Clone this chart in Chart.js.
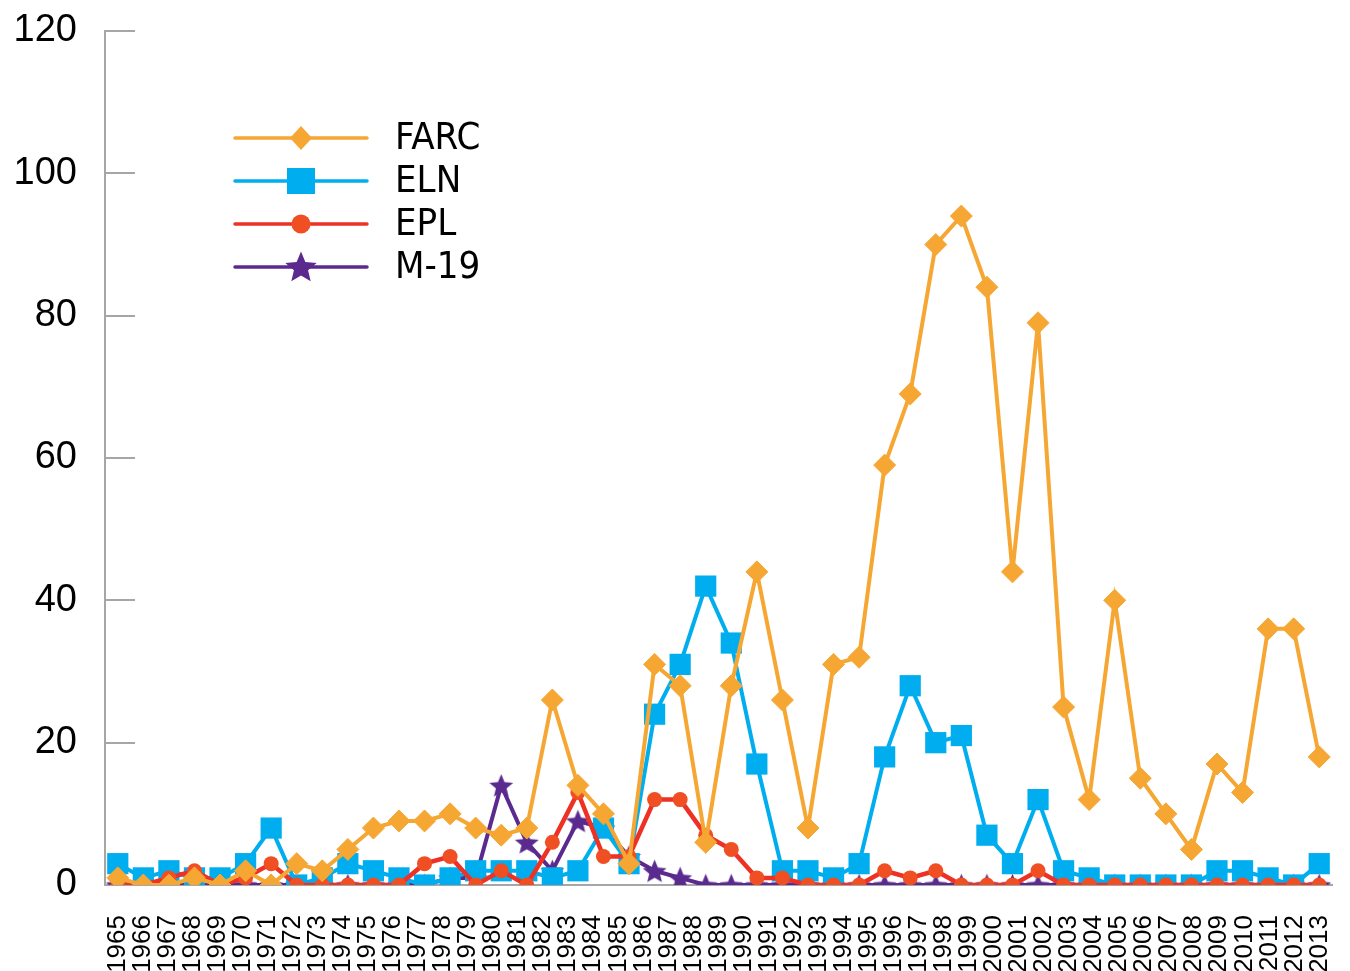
<!DOCTYPE html>
<html>
<head>
<meta charset="utf-8">
<script src="https://cdn.jsdelivr.net/npm/chart.js@4.4.1/dist/chart.umd.min.js"></script>
<style>
  html, body { margin: 0; padding: 0; background: #fff; }
</style>
</head>
<body>
<canvas id="chart" width="1350" height="971"></canvas>
<script>
// axis labels: 49 years, the plotted series have 48 points spread over the same width
const years = ['1965','1966','1967','1968','1969','1970','1971','1972','1973','1974',
  '1975','1976','1977','1978','1979','1980','1981','1982','1983','1984',
  '1985','1986','1987','1988','1989','1990','1991','1992','1993','1994',
  '1995','1996','1997','1998','1999','2000','2001','2002','2003','2004',
  '2005','2006','2007','2008','2009','2010','2011','2012','2013'];

const farc = [1, 0, 0, 1, 0, 2, 0, 3, 2, 5, 8, 9, 9, 10, 8, 7, 8, 26, 14, 10,
  3, 31, 28, 6, 28, 44, 26, 8, 31, 32, 59, 69, 90, 94, 84, 44, 79, 25, 12, 40,
  15, 10, 5, 17, 13, 36, 36, 18];
const eln = [3, 1, 2, 1, 1, 3, 8, 0, 1, 3, 2, 1, 0, 1, 2, 2, 2, 1, 2, 8,
  3, 24, 31, 42, 34, 17, 2, 2, 1, 3, 18, 28, 20, 21, 7, 3, 12, 2, 1, 0,
  0, 0, 0, 2, 2, 1, 0, 3];
const epl = [0, 0, 1, 2, 0, 1, 3, 0, 0, 0, 0, 0, 3, 4, 0, 2, 0, 6, 13, 4,
  4, 12, 12, 7, 5, 1, 1, 0, 0, 0, 2, 1, 2, 0, 0, 0, 2, 0, 0, 0,
  0, 0, 0, 0, 0, 0, 0, 0];
const m19 = [0, 0, 0, 0, 0, 0, 0, 0, 0, 0, 0, 0, 0, 1, 1, 14, 6, 2, 9, 8,
  4, 2, 1, 0, 0, 0, 0, 0, 0, 0, 0, 0, 0, 0, 0, 0, 0, 0, 0, 0,
  0, 0, 0, 0, 0, 0, 0, 0];

const yTicks = [0, 20, 40, 60, 80, 100, 120];

const FARC_COLOR = '#F6A733';
const ELN_COLOR = '#00AEEF';
const EPL_LINE = '#EE3124';
const EPL_DOT = '#F04E23';
const M19_COLOR = '#5B2A8F';
const AXIS_GRAY = '#A6A6A6';

function starPath(ctx, cx, cy, r) {
  ctx.beginPath();
  for (let i = 0; i < 10; i++) {
    const rr = i % 2 ? r * 0.45 : r;
    const a = -Math.PI / 2 + i * Math.PI / 5;
    ctx.lineTo(cx + rr * Math.cos(a), cy + rr * Math.sin(a));
  }
  ctx.closePath();
}

function makeStar(r, color) {
  const c = document.createElement('canvas');
  c.width = Math.ceil(r * 2 + 2);
  c.height = Math.ceil(r * 2 + 2);
  const g = c.getContext('2d');
  g.fillStyle = color;
  starPath(g, c.width / 2, c.height / 2 + r * 0.1, r);
  g.fill();
  return c;
}

const toPoints = arr => arr.map((v, i) => ({ x: i, y: v }));

// small gray ticks that point into the plot from the y axis
const innerTicks = {
  id: 'innerTicks',
  beforeDatasetsDraw(chart) {
    const { ctx, chartArea, scales } = chart;
    ctx.save();
    ctx.strokeStyle = AXIS_GRAY;
    ctx.lineWidth = 2;
    yTicks.forEach(v => {
      if (v === 0) return;
      const y = Math.round(scales.y.getPixelForValue(v));
      ctx.beginPath();
      ctx.moveTo(chartArea.left, y);
      ctx.lineTo(chartArea.left + 30, y);
      ctx.stroke();
    });
    ctx.restore();
  }
};

// legend with line + marker, like the original
const legendItems = [
  { name: 'FARC', line: FARC_COLOR, fill: FARC_COLOR, mark: 'diamond' },
  { name: 'ELN', line: ELN_COLOR, fill: ELN_COLOR, mark: 'square' },
  { name: 'EPL', line: EPL_LINE, fill: EPL_DOT, mark: 'circle' },
  { name: 'M-19', line: M19_COLOR, fill: M19_COLOR, mark: 'star' }
];

const lineLegend = {
  id: 'lineLegend',
  afterDraw(chart) {
    const ctx = chart.ctx;
    const x0 = chart.chartArea.left + 130;
    const top = chart.chartArea.top + 107;
    ctx.save();
    legendItems.forEach((it, i) => {
      const y = top + i * 43;
      ctx.strokeStyle = it.line;
      ctx.lineWidth = 3.5;
      ctx.lineCap = 'round';
      ctx.beginPath();
      ctx.moveTo(x0, y);
      ctx.lineTo(x0 + 132, y);
      ctx.stroke();
      const cx = x0 + 66;
      ctx.fillStyle = it.fill;
      ctx.beginPath();
      if (it.mark === 'diamond') {
        ctx.moveTo(cx, y - 12); ctx.lineTo(cx + 11, y); ctx.lineTo(cx, y + 12); ctx.lineTo(cx - 11, y);
        ctx.closePath();
      } else if (it.mark === 'square') {
        ctx.rect(cx - 14, y - 13, 28, 26);
      } else if (it.mark === 'circle') {
        ctx.arc(cx, y, 9.5, 0, Math.PI * 2);
      } else {
        starPath(ctx, cx, y + 1, 16.5);
      }
      ctx.fill();
      ctx.fillStyle = '#000';
      ctx.font = "38px 'Liberation Sans Narrow', 'DejaVu Sans Condensed', sans-serif";
      ctx.textBaseline = 'middle';
      ctx.textAlign = 'left';
      ctx.fillText(it.name, x0 + 160, y + 1);
    });
    ctx.restore();
  }
};

const ctx = document.getElementById('chart').getContext('2d');
new Chart(ctx, {
  type: 'line',
  data: {
    datasets: [
      {
        label: 'FARC', data: toPoints(farc), order: 0,
        borderColor: FARC_COLOR, borderWidth: 4,
        pointStyle: 'rectRot', pointRadius: 11, pointBackgroundColor: FARC_COLOR,
        pointBorderColor: FARC_COLOR, pointBorderWidth: 1
      },
      {
        label: 'ELN', data: toPoints(eln), order: 2,
        borderColor: ELN_COLOR, borderWidth: 4,
        pointStyle: 'rect', pointRadius: 15, pointBackgroundColor: ELN_COLOR,
        pointBorderColor: ELN_COLOR, pointBorderWidth: 0
      },
      {
        label: 'EPL', data: toPoints(epl), order: 1,
        borderColor: EPL_LINE, borderWidth: 4.5,
        pointStyle: 'circle', pointRadius: 7.5, pointBackgroundColor: EPL_DOT,
        pointBorderColor: EPL_DOT, pointBorderWidth: 0
      },
      {
        label: 'M-19', data: toPoints(m19), order: 3,
        borderColor: M19_COLOR, borderWidth: 4,
        pointStyle: makeStar(12.5, M19_COLOR), pointRadius: 12
      }
    ]
  },
  options: {
    responsive: false,
    animation: false,
    layout: { padding: { top: 31, left: 14, right: 18, bottom: 0 } },
    plugins: {
      legend: { display: false },
      tooltip: { enabled: false }
    },
    elements: { line: { tension: 0 } },
    scales: {
      x: {
        type: 'linear',
        display: false,
        min: -0.5,
        max: farc.length - 0.5
      },
      years: {
        type: 'category',
        labels: years,
        position: 'bottom',
        offset: true,
        grid: { display: false, drawTicks: false },
        border: { display: true, color: AXIS_GRAY, width: 2 },
        ticks: {
          autoSkip: false,
          minRotation: 90,
          maxRotation: 90,
          padding: 30,
          color: '#000',
          font: { family: "'Liberation Sans', Arial, sans-serif", size: 26 }
        },
        afterFit(scale) {
          scale.height = 86;
          scale.paddingLeft = 0;
          scale.paddingRight = 0;
        }
      },
      y: {
        min: 0,
        max: 120,
        afterBuildTicks(scale) { scale.ticks = yTicks.map(v => ({ value: v })); },
        afterFit(scale) {
          scale.width = 91;
          scale.paddingTop = 0;
          scale.paddingBottom = 0;
        },
        grid: { display: false, drawTicks: false },
        border: { display: true, color: AXIS_GRAY, width: 2 },
        ticks: {
          padding: 28,
          color: '#000',
          font: { family: "'Liberation Sans', Arial, sans-serif", size: 38 }
        }
      }
    }
  },
  plugins: [innerTicks, lineLegend]
});
</script>
</body>
</html>
